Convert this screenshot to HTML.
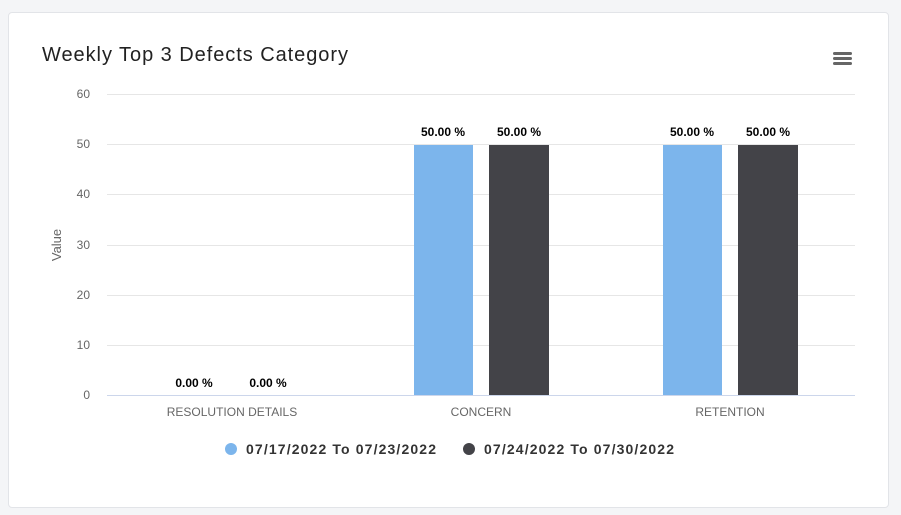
<!DOCTYPE html>
<html><head><style>
body{margin:0;background:#f4f5f7;width:901px;height:515px;overflow:hidden;font-family:"Liberation Sans",sans-serif}
.card{position:absolute;left:8px;top:12px;width:879px;height:494px;background:#fff;border:1px solid #e2e4e8;border-radius:4px}
</style></head><body>
<div class="card"></div>
<svg width="901" height="515" style="position:absolute;left:0;top:0" font-family="Liberation Sans, sans-serif">
<text x="42" y="61" font-size="20" fill="#222" textLength="306" lengthAdjust="spacing">Weekly Top 3 Defects Category</text>
<g fill="#666"><rect x="833" y="52" width="19" height="3" rx="1.5"/><rect x="833" y="57" width="19" height="3" rx="1.5"/><rect x="833" y="62" width="19" height="3" rx="1.5"/></g>
<g stroke="#e6e6e6" stroke-width="1">
<line x1="107" x2="855" y1="94.5" y2="94.5"/><line x1="107" x2="855" y1="144.5" y2="144.5"/><line x1="107" x2="855" y1="194.5" y2="194.5"/><line x1="107" x2="855" y1="245.5" y2="245.5"/><line x1="107" x2="855" y1="295.5" y2="295.5"/><line x1="107" x2="855" y1="345.5" y2="345.5"/>
</g>
<line x1="107" x2="855" y1="395.5" y2="395.5" stroke="#ccd6eb"/>
<g font-size="12" fill="#666" text-anchor="end">
<text x="90" y="98">60</text><text x="90" y="148">50</text><text x="90" y="198">40</text><text x="90" y="249">30</text><text x="90" y="299">20</text><text x="90" y="349">10</text><text x="90" y="399">0</text>
</g>
<text transform="translate(61,245) rotate(-90)" font-size="13" fill="#666" text-anchor="middle">Value</text>
<rect x="414" y="145" width="59" height="250" fill="#7cb5ec"/>
<rect x="489" y="145" width="60" height="250" fill="#434348"/>
<rect x="663" y="145" width="59" height="250" fill="#7cb5ec"/>
<rect x="738" y="145" width="60" height="250" fill="#434348"/>
<g font-size="12" font-weight="bold" fill="#000" text-anchor="middle">
<text x="194" y="387">0.00 %</text><text x="268" y="387">0.00 %</text>
<text x="443" y="136">50.00 %</text><text x="519" y="136">50.00 %</text>
<text x="692" y="136">50.00 %</text><text x="768" y="136">50.00 %</text>
</g>
<g font-size="12" fill="#666" text-anchor="middle">
<text x="232" y="416">RESOLUTION DETAILS</text><text x="481" y="416">CONCERN</text><text x="730" y="416">RETENTION</text>
</g>
<circle cx="231" cy="449" r="6" fill="#7cb5ec"/>
<text x="246" y="454" font-size="14" font-weight="bold" fill="#333" textLength="190" lengthAdjust="spacing">07/17/2022 To 07/23/2022</text>
<circle cx="469" cy="449" r="6" fill="#434348"/>
<text x="484" y="454" font-size="14" font-weight="bold" fill="#333" textLength="190" lengthAdjust="spacing">07/24/2022 To 07/30/2022</text>
</svg>
</body></html>
